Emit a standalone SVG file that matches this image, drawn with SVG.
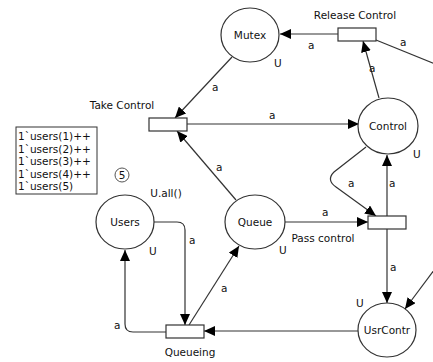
<svg xmlns="http://www.w3.org/2000/svg" width="433" height="362" viewBox="0 0 433 362">
<style>
text{font-family:"DejaVu Sans",Verdana,sans-serif;font-size:10.5px;fill:#111}
.m{text-anchor:middle}
.place{fill:#fff;stroke:#333;stroke-width:1.2}
.trans{fill:#fff;stroke:#333;stroke-width:1.2}
.arc{fill:none;stroke:#333;stroke-width:1.2}
</style>
<defs>
<marker id="ah" markerUnits="userSpaceOnUse" markerWidth="12" markerHeight="10" refX="11" refY="5" orient="auto">
<path d="M0,0 L11,5 L0,10 z" fill="#000"/>
</marker>
</defs>
<rect width="433" height="362" fill="#fff"/>
<g id="connectors">
<path class="arc" d="M338,34 L280,34" marker-end="url(#ah)"/>
<path class="arc" d="M376,40 L440,66"/>
<path class="arc" d="M440,262 L405,309" marker-end="url(#ah)"/>
<path class="arc" d="M379,98 L363,41" marker-end="url(#ah)"/>
<path class="arc" d="M232,57 L175,118" marker-end="url(#ah)"/>
<path class="arc" d="M187,124 L359,124" marker-end="url(#ah)"/>
<path class="arc" d="M236,200 L177,131" marker-end="url(#ah)"/>
<path class="arc" d="M284,222 L368,222" marker-end="url(#ah)"/>
<path class="arc" d="M366,147 L334,172 Q326,180 336,187 L376,216" marker-end="url(#ah)"/>
<path class="arc" d="M387,216 L387,155" marker-end="url(#ah)"/>
<path class="arc" d="M387,229 L387,303" marker-end="url(#ah)"/>
<path class="arc" d="M358,331 L204,331" marker-end="url(#ah)"/>
<path class="arc" d="M166,332 L133,332 Q125,332 125,324 L125,250" marker-end="url(#ah)"/>
<path class="arc" d="M154,222 L177,222 Q185,222 185,230 L185,325" marker-end="url(#ah)"/>
<path class="arc" d="M189,325 L239,246" marker-end="url(#ah)"/>
<text x="308" y="49">a</text>
<text x="400" y="46">a</text>
<text x="369" y="72">a</text>
<text x="212" y="91">a</text>
<text x="269" y="119">a</text>
<text x="216" y="171">a</text>
<text x="322" y="216">a</text>
<text x="348" y="187">a</text>
<text x="389" y="187">a</text>
<text x="390" y="271">a</text>
<text x="114" y="329">a</text>
<text x="189" y="244">a</text>
<text x="221" y="292">a</text>
</g>
<g id="Mutex">
<ellipse class="place" cx="250" cy="35" rx="29" ry="27"/>
<text class="m" x="250" y="39">Mutex</text>
<text x="274" y="67">U</text>
</g>
<g id="ReleaseControl">
<rect class="trans" x="338" y="28" width="38" height="13"/>
<text class="m" x="355" y="19">Release Control</text>
</g>
<g id="TakeControl">
<rect class="trans" x="149" y="118" width="38" height="13"/>
<text class="m" x="122" y="109">Take Control</text>
</g>
<g id="Control">
<ellipse class="place" cx="388" cy="126" rx="30" ry="28"/>
<text class="m" x="388" y="130">Control</text>
<text x="413" y="158">U</text>
</g>
<g id="Queue">
<ellipse class="place" cx="255" cy="222" rx="30" ry="27"/>
<text class="m" x="255" y="226">Queue</text>
<text x="279" y="254">U</text>
</g>
<g id="PassControl">
<rect class="trans" x="368" y="216" width="38" height="13"/>
<text class="m" x="323" y="242">Pass control</text>
</g>
<g id="Users">
<ellipse class="place" cx="125" cy="222" rx="29" ry="27"/>
<text class="m" x="125" y="226">Users</text>
<text x="149" y="255">U</text>
<text class="m" x="166" y="197">U.all()</text>
<circle cx="122" cy="175" r="7" fill="none" stroke="#555" stroke-width="1"/>
<text class="m" x="122" y="179">5</text>
<rect x="16" y="127" width="81" height="67" fill="#fff" stroke="#333" stroke-width="1"/>
<text x="18" y="140">1`users(1)++</text>
<text x="18" y="152.5">1`users(2)++</text>
<text x="18" y="165">1`users(3)++</text>
<text x="18" y="177.5">1`users(4)++</text>
<text x="18" y="190">1`users(5)</text>
</g>
<g id="UsrContr">
<ellipse class="place" cx="387" cy="330" rx="29" ry="27"/>
<text class="m" x="387" y="334">UsrContr</text>
<text x="356" y="307">U</text>
</g>
<g id="Queueing">
<rect class="trans" x="166" y="325" width="38" height="13"/>
<text class="m" x="190" y="356">Queueing</text>
</g>
</svg>
